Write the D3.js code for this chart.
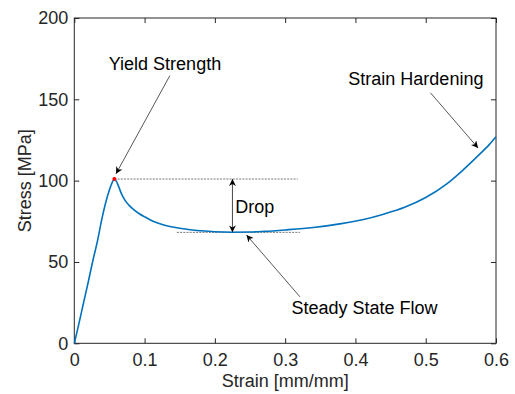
<!DOCTYPE html>
<html>
<head>
<meta charset="utf-8">
<script src="https://cdn.jsdelivr.net/npm/d3@7"></script>
<style>
  body { margin: 0; background: #fff; }
  svg { display: block; font-family: "Liberation Sans", Arial, sans-serif; }
</style>
</head>
<body>
<svg class="svg"></svg>
<script>
// curve
const strain = [0, 0.006, 0.013, 0.02, 0.026, 0.033, 0.039, 0.045, 0.05, 0.054, 0.057, 0.06, 0.063, 0.067, 0.072, 0.078, 0.085, 0.093, 0.1, 0.112, 0.125, 0.136, 0.15, 0.165, 0.18, 0.2, 0.224, 0.25, 0.27, 0.3, 0.34, 0.38, 0.41, 0.44, 0.47, 0.5, 0.53, 0.553, 0.575, 0.59, 0.6];
const stress = [0, 11, 24.6, 38, 50, 63, 76, 87, 94.4, 99, 101, 99.5, 96.5, 92, 88, 84.8, 82, 79.5, 77.8, 75, 73, 71.8, 70.7, 69.8, 69.2, 68.6, 68.3, 68.4, 68.8, 69.7, 71.2, 73.6, 76, 79.4, 83.6, 89.6, 98, 106.5, 115.5, 122, 127];

const xTicks = [0, 0.1, 0.2, 0.3, 0.4, 0.5, 0.6];
const yTicks = [0, 50, 100, 150, 200];

const yieldPoint = [0.057, 101];
const steadyStress = 68.2;
const dropStrain = 0.225;
const upperDash = [0.057, 0.318];
const lowerDash = [0.146, 0.321];

// annotations: label, text anchor point, arrow from -> to
const notes = [
  { text: 'Yield Strength', tx: 0.129, ty: 168, from: [0.136, 164.6], to: [0.0593, 104.2] },
  { text: 'Strain Hardening', tx: 0.486, ty: 158.8, from: [0.5068, 154], to: [0.5745, 120.1] },
  { text: 'Steady State Flow', tx: 0.413, ty: 18, from: [0.321, 28.6], to: [0.245, 66.6] }
];

const width = 515;
const height = 394;
const margin = { top: 18, right: 19, bottom: 50.7, left: 74.3 };

const svg = d3.select('.svg').attr('width', width).attr('height', height);

const x = d3.scaleLinear().domain([0, 0.6]).range([margin.left, width - margin.right]);
const y = d3.scaleLinear().domain([0, 200]).range([height - margin.bottom, margin.top]);

const defs = svg.append('defs');
defs.append('marker')
  .attr('id', 'head')
  .attr('viewBox', '0 0 10 10')
  .attr('refX', 10)
  .attr('refY', 5)
  .attr('markerUnits', 'userSpaceOnUse')
  .attr('markerWidth', 8)
  .attr('markerHeight', 7)
  .attr('orient', 'auto-start-reverse')
  .append('path')
  .attr('d', 'M0,0 L10,5 L0,10 L3,5 Z')
  .attr('fill', '#000');

const axisColor = '#262626';

// axes, ticks pointing inward
const gx = svg.append('g')
  .attr('transform', `translate(0,${y(0)})`)
  .call(d3.axisBottom(x).tickValues(xTicks).tickSizeInner(-5).tickSizeOuter(0).tickPadding(10)
    .tickFormat(d => d3.format('')(d)));
const gy = svg.append('g')
  .attr('transform', `translate(${x(0)},0)`)
  .call(d3.axisLeft(y).tickValues(yTicks).tickSizeInner(-5).tickSizeOuter(0).tickPadding(6));
const gt = svg.append('g')
  .attr('transform', `translate(0,${y(200)})`)
  .call(d3.axisTop(x).tickValues(xTicks).tickSizeInner(-5).tickSizeOuter(0).tickFormat(''));
const gr = svg.append('g')
  .attr('transform', `translate(${x(0.6)},0)`)
  .call(d3.axisRight(y).tickValues(yTicks).tickSizeInner(-5).tickSizeOuter(0).tickFormat(''));

[gx, gy, gt, gr].forEach(g => {
  g.selectAll('.domain').remove();
  g.selectAll('line').attr('stroke', axisColor);
  g.selectAll('text').attr('fill', axisColor).style('font-size', '18px')
    .style('font-family', '"Liberation Sans", Arial, sans-serif');
});

svg.append('rect')
  .attr('x', x(0))
  .attr('y', y(200))
  .attr('width', x(0.6) - x(0))
  .attr('height', y(0) - y(200))
  .attr('fill', 'none')
  .attr('stroke', axisColor)
  .attr('stroke-width', 1);

svg.append('text')
  .attr('x', (x(0) + x(0.6)) / 2)
  .attr('y', 387)
  .attr('text-anchor', 'middle')
  .attr('fill', axisColor)
  .style('font-size', '18px')
  .text('Strain [mm/mm]');

svg.append('text')
  .attr('transform', `translate(31,${(y(0) + y(200)) / 2}) rotate(-90)`)
  .attr('text-anchor', 'middle')
  .attr('fill', axisColor)
  .style('font-size', '18px')
  .text('Stress [MPa]');

// dashed guides
const dash = svg.append('g')
  .attr('stroke', '#666')
  .attr('stroke-width', 0.9)
  .attr('stroke-dasharray', '2,1.2');
dash.append('line')
  .attr('x1', x(upperDash[0])).attr('x2', x(upperDash[1]))
  .attr('y1', y(yieldPoint[1])).attr('y2', y(yieldPoint[1]));
dash.append('line')
  .attr('x1', x(lowerDash[0])).attr('x2', x(lowerDash[1]))
  .attr('y1', y(steadyStress)).attr('y2', y(steadyStress));

// the curve
const pts = strain.map((s, i) => [s, stress[i]]);
const line = d3.line()
  .x(d => x(d[0]))
  .y(d => y(d[1]))
  .curve(d3.curveMonotoneX);

svg.append('path')
  .datum(pts)
  .attr('d', line)
  .attr('fill', 'none')
  .attr('stroke', '#0072BD')
  .attr('stroke-width', 1.6);

svg.append('circle')
  .attr('cx', x(yieldPoint[0]))
  .attr('cy', y(yieldPoint[1]))
  .attr('r', 2)
  .attr('fill', '#ff0000');

// drop arrow
svg.append('line')
  .attr('x1', x(dropStrain)).attr('x2', x(dropStrain))
  .attr('y1', y(yieldPoint[1])).attr('y2', y(steadyStress))
  .attr('stroke', '#333')
  .attr('stroke-width', 0.9)
  .attr('marker-start', 'url(#head)')
  .attr('marker-end', 'url(#head)');

svg.append('text')
  .attr('x', x(0.229))
  .attr('y', y(80.1))
  .attr('fill', '#000')
  .style('font-size', '18px')
  .text('Drop');

// annotations
const ann = svg.append('g').selectAll('g').data(notes).join('g');
ann.append('line')
  .attr('x1', d => x(d.from[0])).attr('y1', d => y(d.from[1]))
  .attr('x2', d => x(d.to[0])).attr('y2', d => y(d.to[1]))
  .attr('stroke', '#444')
  .attr('stroke-width', 0.9)
  .attr('marker-end', 'url(#head)');
ann.append('text')
  .attr('x', d => x(d.tx))
  .attr('y', d => y(d.ty))
  .attr('text-anchor', 'middle')
  .attr('fill', '#000')
  .style('font-size', '18px')
  .text(d => d.text);
</script>
</body>
</html>
